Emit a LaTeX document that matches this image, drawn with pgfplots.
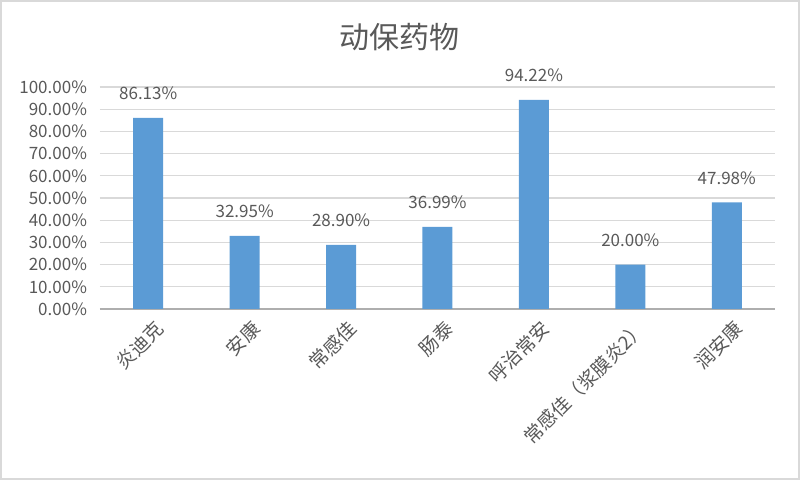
\documentclass[border=0pt]{standalone}
\usepackage{fontspec}
\setmainfont{Noto Sans CJK SC}
\usepackage{pgfplots}
\pgfplotsset{compat=1.18}
\definecolor{barblue}{HTML}{5B9BD5}
\definecolor{txt}{HTML}{595959}
\definecolor{gridc}{HTML}{D9D9D9}
\begin{document}
\begin{tikzpicture}
\useasboundingbox (-50pt,-85.5pt) rectangle (350pt,154.5pt);
\draw[gridc, line width=0.8pt] (-49.6pt,-85.1pt) rectangle (349.6pt,154.1pt);
\begin{axis}[
  at={(0,0)}, anchor=south west,
  scale only axis, width=337.5pt, height=111pt,
  xmin=-0.5, xmax=6.5, ymin=0, ymax=100,
  ytick={0,10,...,100},
  xtick={0,...,6},
  xticklabels={炎迪克,安康,常感佳,肠泰,呼治常安,常感佳（浆膜炎2）,润安康},
  /pgf/number format/assume math mode=true,
  yticklabel={\pgfmathprintnumber[fixed,fixed zerofill,precision=2]{\tick}\%},
  yticklabel style={font=\fontsize{8.5}{9}\selectfont, text=txt, anchor=east, xshift=-3pt},
  xticklabel style={font=\fontsize{9.5}{10}\selectfont, text=txt, rotate=45, anchor=east, xshift=2pt, yshift=-10pt},
  ymajorgrids, grid style={gridc, line width=0.6pt},
  axis x line*=bottom, axis y line*=left,
  x axis line style={-, draw=gridc!80!black, line width=0.6pt},
  y axis line style={draw=none},
  major tick length=0pt,
  ybar, bar width=15pt,
  nodes near coords={\pgfmathprintnumber[fixed,fixed zerofill,precision=2]{\pgfplotspointmeta}\%},
  nodes near coords style={font=\fontsize{8.5}{9}\selectfont, text=txt, yshift=5.5pt},
  clip=false,
]
\addplot[fill=barblue, draw=none] coordinates {(0,86.13) (1,32.95) (2,28.90) (3,36.99) (4,94.22) (5,20.00) (6,47.98)};
\end{axis}
\node[text=txt, font=\fontsize{15}{17}\selectfont] at (150pt,136pt) {动保药物};
\end{tikzpicture}
\end{document}
